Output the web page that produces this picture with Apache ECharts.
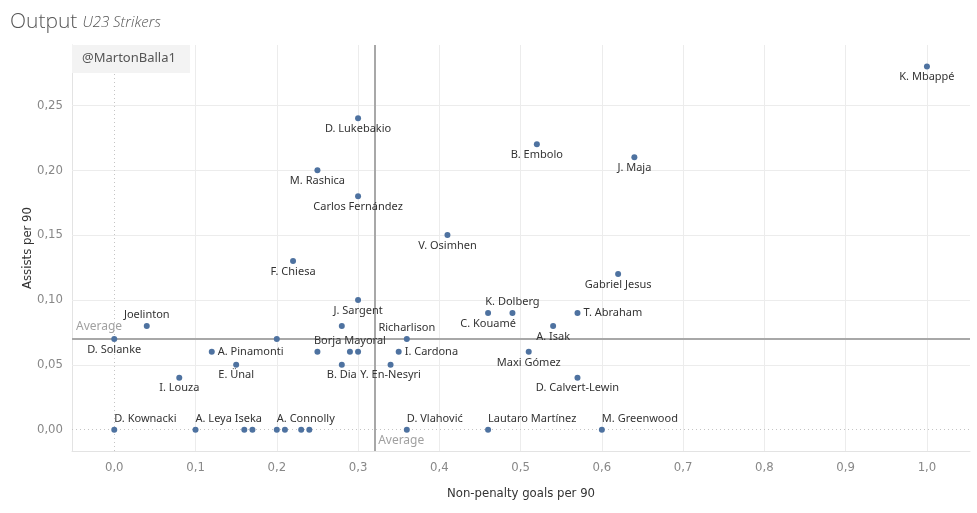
<!DOCTYPE html>
<html>
<head>
<meta charset="utf-8">
<script src="https://cdn.jsdelivr.net/npm/echarts@6/dist/echarts.min.js"></script>
<style>
html,body{margin:0;padding:0;background:#fff;}
#chart{width:977px;height:513px;}
</style>
</head>
<body>
<div id="chart"></div>
<script>
// ---- data ----
const players = ['K. Mbappé','D. Lukebakio','B. Embolo','J. Maja','M. Rashica','Carlos Fernández','V. Osimhen','F. Chiesa','Gabriel Jesus','J. Sargent','','Joelinton','Richarlison','K. Dolberg','C. Kouamé','T. Abraham','A. Isak','D. Solanke','','A. Pinamonti','','Borja Mayoral','','I. Cardona','Maxi Gómez','E. Ünal','B. Dia','Y. En-Nesyri','I. Louza','D. Calvert-Lewin','D. Kownacki','A. Leya Iseka','','','A. Connolly','','','','D. Vlahović','Lautaro Martínez','M. Greenwood'];
const goalsPer90 = [1.00,0.30,0.52,0.64,0.25,0.30,0.41,0.22,0.62,0.30,0.28,0.04,0.36,0.49,0.46,0.57,0.54,0.00,0.20,0.12,0.25,0.29,0.30,0.35,0.51,0.15,0.28,0.34,0.08,0.57,0.00,0.10,0.16,0.17,0.20,0.21,0.23,0.24,0.36,0.46,0.60];
const assistsPer90 = [0.28,0.24,0.22,0.21,0.20,0.18,0.15,0.13,0.12,0.10,0.08,0.08,0.07,0.09,0.09,0.09,0.08,0.07,0.07,0.06,0.06,0.06,0.06,0.06,0.06,0.05,0.05,0.05,0.04,0.04,0.00,0.00,0.00,0.00,0.00,0.00,0.00,0.00,0.00,0.00,0.00];
const avgGoals = 0.321;
const avgAssists = 0.0725;
const xTicks = [0,0.1,0.2,0.3,0.4,0.5,0.6,0.7,0.8,0.9,1.0];
const yTicks = [0,0.05,0.10,0.15,0.20,0.25];
const xRange = [-0.052, 1.053];
const yRange = [-0.0164, 0.2965];

// ---- label placement (style) ----
const topLabels = ['Joelinton','Richarlison','Borja Mayoral','K. Dolberg'];
const rightLabels = ['A. Pinamonti','I. Cardona','T. Abraham'];
const topLeftLabels = ['D. Kownacki','A. Leya Iseka','A. Connolly','D. Vlahović','Lautaro Martínez','M. Greenwood'];

const labelFont = '"Noto Sans", "Open Sans", sans-serif';
function labelFor(name){
  const base = {show: !!name, formatter: name, color:'#333', fontSize:11, fontFamily: labelFont};
  if (topLabels.includes(name)) return Object.assign(base,{position:'top',distance:3});
  if (rightLabels.includes(name)) return Object.assign(base,{position:'right',distance:3});
  if (topLeftLabels.includes(name)) return Object.assign(base,{position:'top',align:'left',distance:2,offset:[-1,0]});
  return Object.assign(base,{position:'bottom',distance:2});
}

const points = players.map((n,i)=>({name:n, value:[goalsPer90[i], assistsPer90[i]], label: labelFor(n)}));

const gridLineStyle = {color:'#ececec', width:1, type:'solid'};
const gridLines = [];
xTicks.filter(v=>v!==0).forEach(v=>gridLines.push({xAxis:v, lineStyle:gridLineStyle}));
yTicks.filter(v=>v!==0).forEach(v=>gridLines.push({yAxis:v, lineStyle:gridLineStyle}));
gridLines.push({xAxis:0, lineStyle:{color:'#c4c4c4', width:1, type:[1,3]}});
gridLines.push({yAxis:0, lineStyle:{color:'#c4c4c4', width:1, type:[1,3]}});

const axisFont = '"Liberation Sans Narrow", "DejaVu Sans Condensed", "Roboto", sans-serif';

const chart = echarts.init(document.getElementById('chart'), null, {renderer:'canvas'});
chart.setOption({
  animation:false,
  backgroundColor:'#fff',
  title:{
    text:'{a|Output} {b|U23 Strikers}',
    left:5, top:7,
    textStyle:{rich:{
      a:{fontSize:21, color:'#555', fontFamily:'"Open Sans", sans-serif', fontWeight:300},
      b:{fontSize:15, color:'#555', fontFamily:'"Open Sans", sans-serif', fontStyle:'italic', fontWeight:300}
    }}
  },
  grid:{left:72, top:45, width:898, height:406, containLabel:false},
  xAxis:{
    type:'value', min:xRange[0], max:xRange[1],
    name:'Non-penalty goals per 90', nameLocation:'middle', nameGap:36, nameMoveOverlap:false,
    nameTextStyle:{color:'#333', fontSize:13, fontFamily:axisFont},
    axisLine:{show:true, onZero:false, lineStyle:{color:'#e3e3e3'}},
    axisTick:{show:false},
    splitLine:{show:false},
    axisLabel:{customValues:xTicks, color:'#888', fontSize:13, fontFamily:axisFont, margin:10,
      formatter:v=>v.toFixed(1).replace('.',',')}
  },
  yAxis:{
    type:'value', min:yRange[0], max:yRange[1],
    name:'Assists per 90', nameLocation:'middle', nameGap:38, nameRotate:90, nameMoveOverlap:false,
    nameTextStyle:{color:'#333', fontSize:13, fontFamily:axisFont},
    axisLine:{show:true, onZero:false, lineStyle:{color:'#e3e3e3'}},
    axisTick:{show:false},
    splitLine:{show:false},
    axisLabel:{customValues:yTicks, color:'#888', fontSize:13, fontFamily:axisFont, margin:9,
      formatter:v=>v.toFixed(2).replace('.',',')}
  },
  graphic:[
    {type:'rect', left:72, top:45, z:100, shape:{width:118, height:28}, style:{fill:'#f3f3f3'}},
    {type:'text', left:82, top:52, z:101, style:{text:'@MartonBalla1', fill:'#555', fontSize:13, fontFamily:labelFont}}
  ],
  series:[
    {type:'scatter', data:[], z:1, silent:true,
      markLine:{silent:true, symbol:'none', label:{show:false}, animation:false, data:gridLines}},
    {type:'scatter', data:[], z:2, silent:true,
      markLine:{silent:true, symbol:'none', label:{show:false}, animation:false,
        lineStyle:{color:'#a8a8a8', width:2, type:'solid'},
        data:[{xAxis:avgGoals},{yAxis:avgAssists}]}},
    {type:'scatter', z:3, symbolSize:0, silent:true,
      data:[
        {value:[xRange[0], avgAssists], label:{show:true, formatter:'Average', position:'right', distance:4, offset:[0,-9], color:'#888', fontSize:12, fontFamily:labelFont}},
        {value:[avgGoals, yRange[0]], label:{show:true, formatter:'Average', position:'right', distance:3, offset:[0,-10], color:'#888', fontSize:12, fontFamily:labelFont}}
      ]},
    {type:'scatter', z:5, symbol:'circle', symbolSize:6,
      itemStyle:{color:'#4e72a0', opacity:1},
      labelLayout:{hideOverlap:false},
      data:points}
  ]
});
</script>
</body>
</html>
